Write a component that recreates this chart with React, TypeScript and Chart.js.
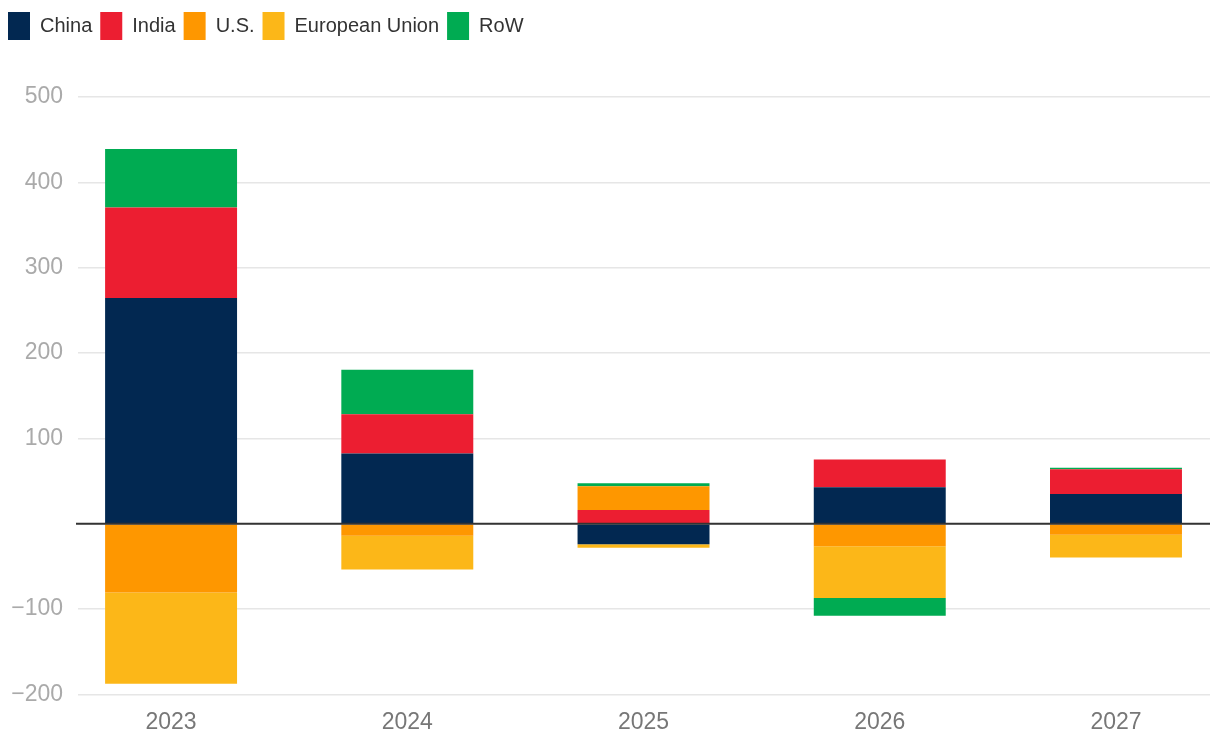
import React, { useEffect, useRef } from "react";
import { Chart, registerables } from "chart.js";

Chart.register(...registerables);

const years = ["2023", "2024", "2025", "2026", "2027"];
const china = [264.6, 82.3, -24, 42.6, 34.7];
const india = [106, 46, 16, 32.7, 29];
const us = [-80.7, -14, 28, -26.3, -13];
const eu = [-106.9, -39.7, -4.3, -60.7, -26.5];
const row = [68.5, 52, 3.5, -20.7, 1.8];

const seriesNames = ["China", "India", "U.S.", "European Union", "RoW"];
const seriesColors = ["#022851", "#ec1e31", "#fe9700", "#fcb718", "#00ab52"];
const seriesValues = [china, india, us, eu, row];

const FONT = "'Liberation Sans', Arial, Helvetica, sans-serif";

const zeroLinePlugin = {
  id: "zeroLine",
  afterDatasetsDraw(chart: any) {
    const y = chart.scales.y.getPixelForValue(0);
    const { left, right } = chart.chartArea;
    const ctx = chart.ctx;
    ctx.save();
    ctx.strokeStyle = "#333333";
    ctx.lineWidth = 2;
    ctx.beginPath();
    ctx.moveTo(left - 2, y);
    ctx.lineTo(right, y);
    ctx.stroke();
    ctx.restore();
  },
};

const legendSpacer = {
  id: "legendSpacer",
  beforeInit(chart: any) {
    const orig = chart.legend.fit;
    chart.legend.fit = function () {
      orig.call(this);
      this.height += 47;
    };
  },
};

export default function App() {
  const ref = useRef<HTMLCanvasElement | null>(null);
  useEffect(() => {
    if (!ref.current) return;
    const chart = new Chart(ref.current, {
      type: "bar",
      data: {
        datasets: seriesNames.map((name, i) => ({
          label: name,
          data: seriesValues[i].map((v, j) => ({ x: j, y: v })),
          backgroundColor: seriesColors[i],
          borderWidth: 0,
          categoryPercentage: 1,
          barPercentage: 0.5586,
        })),
      },
      options: {
        animation: false,
        responsive: true,
        maintainAspectRatio: false,
        layout: { padding: { left: 0, right: 10, top: 4, bottom: 6 } },
        plugins: {
          tooltip: { enabled: false },
          legend: {
            position: "top",
            align: "start",
            labels: {
              boxWidth: 22,
              boxHeight: 28,
              padding: 8,
              color: "#333333",
              font: { family: FONT, size: 20 },
            },
          },
        },
        scales: {
          x: {
            type: "linear",
            stacked: true,
            offset: false,
            min: -0.394,
            max: 4.398,
            grid: { display: false, offset: false },
            border: { display: false },
            afterBuildTicks: (scale: any) => {
              scale.ticks = years.map((_, i) => ({ value: i }));
            },
            ticks: {
              autoSkip: false,
              color: "#777777",
              font: { family: FONT, size: 23 },
              padding: 6,
              callback: (v: any) => years[Number(v)] ?? "",
            },
          },
          y: {
            stacked: true,
            min: -200,
            max: 500,
            afterFit: (scale: any) => {
              scale.width = 78;
            },
            grid: { color: "#e6e6e6", lineWidth: 1.5, drawTicks: false },
            border: { display: false },
            ticks: {
              stepSize: 100,
              color: "#aaaaaa",
              padding: 15,
              font: { family: FONT, size: 23 },
              callback: (v: any) =>
                Number(v) === 0 ? "" : String(v).replace("-", "\u2212"),
            },
          },
        },
      },
      plugins: [zeroLinePlugin, legendSpacer],
    });
    return () => chart.destroy();
  }, []);
  return (
    <div
      style={{
        position: "absolute",
        left: 0,
        top: 0,
        width: 1220,
        height: 748,
        background: "#ffffff",
      }}
    >
      <canvas ref={ref} />
    </div>
  );
}
